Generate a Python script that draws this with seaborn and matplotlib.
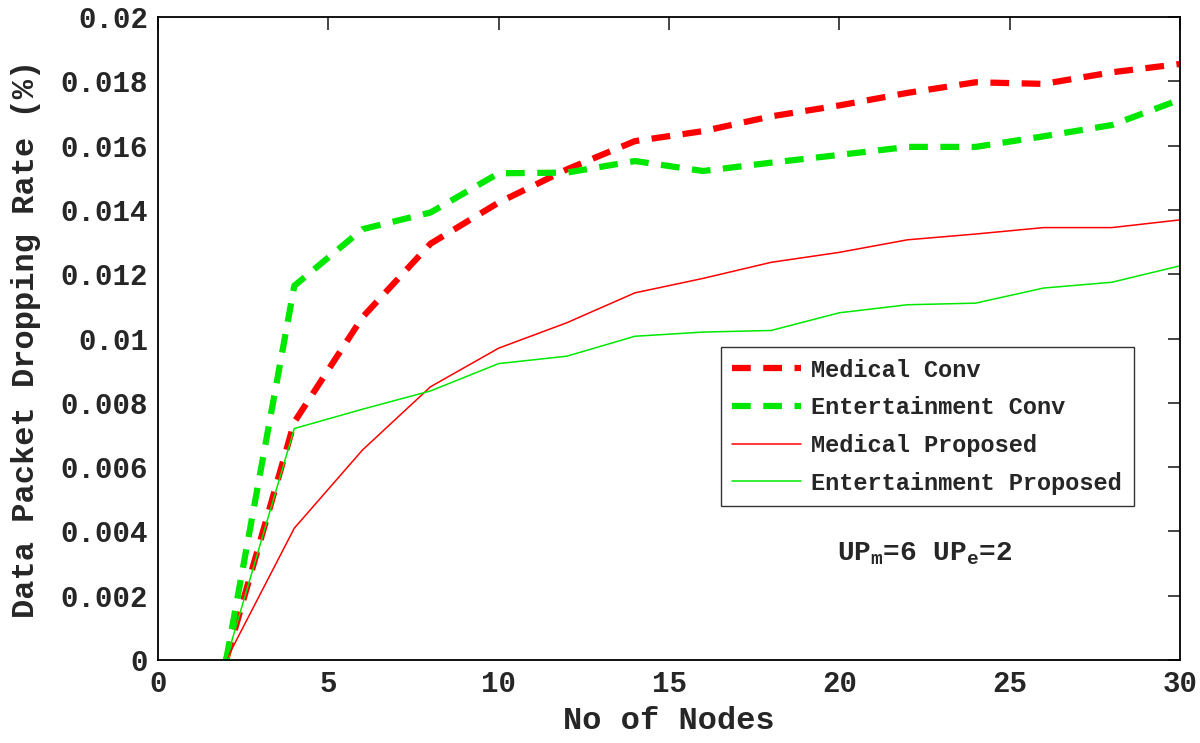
import pandas as pd
import numpy as np
import matplotlib
matplotlib.use("Agg")
import matplotlib.pyplot as plt
import seaborn as sns

# data
nodes = [2, 4, 6, 8, 10, 12, 14, 16, 18, 20, 22, 24, 26, 28, 30]
medical_conv = [0.0, 0.0074, 0.01066, 0.01295, 0.01423, 0.01526, 0.01614, 0.01645,
                0.01691, 0.01725, 0.01764, 0.01797, 0.01792, 0.01828, 0.01854]
entertainment_conv = [0.0, 0.01164, 0.0134, 0.01392, 0.01514, 0.01516, 0.01552, 0.01521,
                      0.01547, 0.01571, 0.01596, 0.01596, 0.01629, 0.01664, 0.01743]
medical_prop = [0.0, 0.0041, 0.00653, 0.0085, 0.0097, 0.01049, 0.01142, 0.01187,
                0.01237, 0.01268, 0.01307, 0.01325, 0.01345, 0.01345, 0.01369]
entertainment_prop = [0.0, 0.0072, 0.0078, 0.00837, 0.00922, 0.00945, 0.01007, 0.0102,
                      0.01025, 0.0108, 0.01105, 0.0111, 0.01157, 0.01175, 0.01226]

series_names = ["Medical Conv", "Entertainment Conv", "Medical Proposed", "Entertainment Proposed"]
series_values = [medical_conv, entertainment_conv, medical_prop, entertainment_prop]
colors = ["#ff0000", "#00e800", "#ff0000", "#00e800"]

df = pd.DataFrame({"nodes": nodes * 4,
                   "rate": sum(series_values, []),
                   "series": np.repeat(series_names, len(nodes))})

sns.set_style("white")
plt.rcParams['font.family'] = ['Liberation Mono', 'DejaVu Sans']
plt.rcParams['font.weight'] = 'bold'
plt.rcParams['mathtext.fontset'] = 'custom'
plt.rcParams['mathtext.rm'] = 'Liberation Mono:bold'
plt.rcParams['mathtext.it'] = 'Liberation Mono:bold'
plt.rcParams['mathtext.bf'] = 'Liberation Mono:bold'

fig = plt.figure(figsize=(12, 7.43), dpi=100)
ax = fig.add_axes([0.1317, 0.1117, 0.8516, 0.8654])

for i, name in enumerate(series_names):
    sub = df[df["series"] == name]
    if "Conv" in name:
        sns.lineplot(data=sub, x="nodes", y="rate", ax=ax, color=colors[i], label=name,
                     linewidth=4.5, dashes=False)
        ax.lines[-1].set_dashes((3, 2))
    else:
        sns.lineplot(data=sub, x="nodes", y="rate", ax=ax, color=colors[i], label=name,
                     linewidth=1.1)

ax.set_xlim(0, 30)
ax.set_ylim(0, 0.02)
ax.set_xticks([0, 5, 10, 15, 20, 25, 30])
ax.set_yticks([0, 0.002, 0.004, 0.006, 0.008, 0.01, 0.012, 0.014, 0.016, 0.018, 0.02])
ax.set_yticklabels(["0", "0.002", "0.004", "0.006", "0.008", "0.01", "0.012",
                    "0.014", "0.016", "0.018", "0.02"])
ax.tick_params(direction='in', length=9, width=1.2, top=True, right=True,
               labelsize=21, pad=7)
for s in ax.spines.values():
    s.set_linewidth(1.3)
    s.set_color('black')

ax.set_xlabel("No of Nodes", fontsize=23, fontweight='bold', labelpad=6)
ax.set_ylabel("Data Packet Dropping Rate (%)", fontsize=23, fontweight='bold', labelpad=14)

leg = ax.legend(loc='upper right', bbox_to_anchor=(0.955, 0.487), fontsize=17,
                frameon=True, fancybox=False, edgecolor='black', handlelength=2.9,
                borderpad=0.5, labelspacing=0.62, handletextpad=0.45, borderaxespad=0)
leg.get_frame().set_linewidth(1.0)

ax.text(22.5, 0.0033, r"UP$_\mathrm{m}$=6 UP$_\mathrm{e}$=2", fontsize=20,
        fontweight='bold', ha='center', va='center')

fig.savefig("out.png", dpi=100)
